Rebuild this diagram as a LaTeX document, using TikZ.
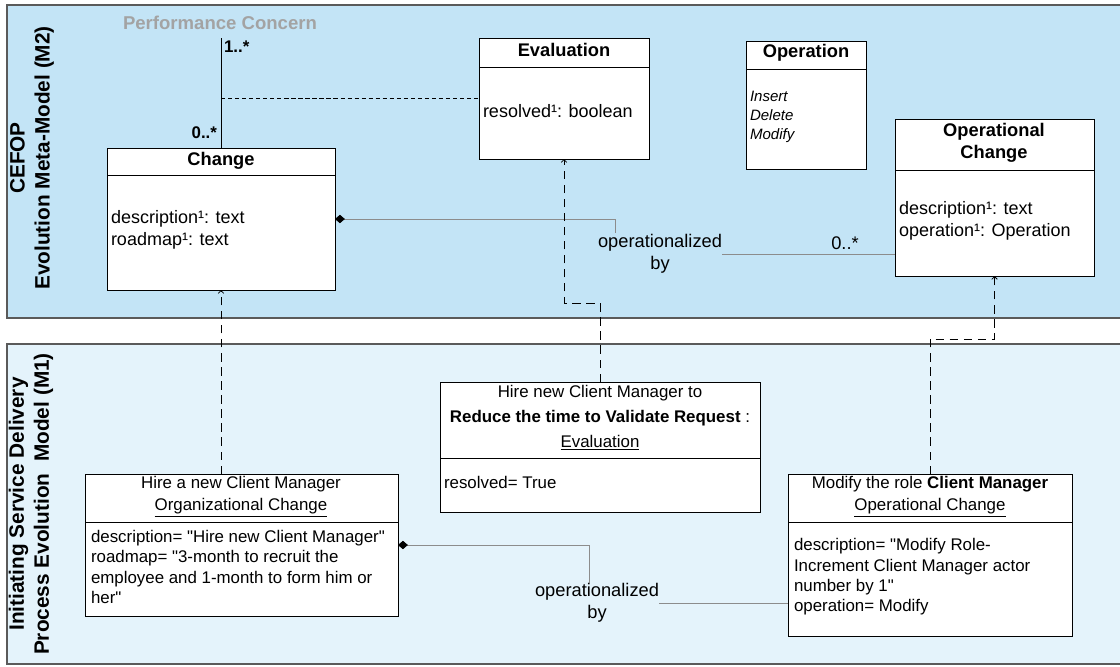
\documentclass[tikz,border=0pt]{standalone}
\usepackage{fontspec}
\setmainfont{Liberation Sans}
\usetikzlibrary{arrows.meta}

\newcommand{\pxu}{0.025cm}
\newcommand{\qt}{\textquotedbl}
\definecolor{metablue}{HTML}{C3E4F6}
\definecolor{modelblue}{HTML}{E4F3FB}
\definecolor{bandline}{HTML}{5A5A5A}
\definecolor{concerngray}{HTML}{A3A3A3}
\definecolor{linkgray}{HTML}{8C8C8C}

\begin{document}
\begin{tikzpicture}[
			x=0.025cm, y=-0.025cm,
			every node/.style={inner sep=0pt, outer sep=0pt},
			band/.style={draw=bandline, line width=1.3pt},
			bandlabel/.style={font=\fontsize{14.8}{17.7}\selectfont\bfseries, rotate=90, align=center},
			umlbox/.style={draw=black, fill=white, line width=0.7pt, anchor=north west},
			title/.style={font=\fontsize{13}{15.6}\selectfont\bfseries, align=center},
			attr/.style={font=\fontsize{12.8}{15.6}\selectfont, align=left, anchor=west},
			insttitle/.style={font=\fontsize{12}{15.6}\selectfont, align=center},
			instattr/.style={font=\fontsize{12}{14.5}\selectfont, align=left, anchor=west},
			linklabel/.style={font=\fontsize{13}{15.6}\selectfont, align=center},
			compos/.style={draw=linkgray, line width=0.5pt},
			owner/.style={{Diamond[length=7pt,width=6pt,black,fill=black]}-},
			instof/.style={line width=0.6pt, dash pattern=on 6pt off 4pt, -{Straight Barb[length=2pt,width=4pt]}},
			line cap=butt
			]
			\useasboundingbox (0,0) rectangle (1120,666);
			
			% meta-model band (M2)
			\draw[band, fill=metablue] (7,5) rectangle (1124,318);
			\node[bandlabel] (m2label) at (32,158) {CEFOP\\Evolution Meta-Model (M2)};
			
			\node[font=\fontsize{13.2}{15}\selectfont\bfseries, text=concerngray] (concern) at (220,23) {Performance Concern};
			
			% Change
			\node[umlbox, minimum width=228*\pxu, minimum height=142*\pxu] (change) at (107,148) {};
			\draw[line width=0.7pt] (107,175) -- (335,175);
			\node[title] (changetitle) at (221,161) {Change};
			\node[attr] (changeattr) at (111,230) {description¹: text\\roadmap¹: text};
			
			% Evaluation
			\node[umlbox, minimum width=170*\pxu, minimum height=121*\pxu] (eval) at (479,38) {};
			\draw[line width=0.7pt] (479,67) -- (649,67);
			\node[title] (evaltitle) at (564,50) {Evaluation};
			\node[attr] (evalattr) at (483,111) {resolved¹: boolean};
			
			% Operation
			\node[umlbox, minimum width=120*\pxu, minimum height=128*\pxu] (operation) at (746,41) {};
			\draw[line width=0.7pt] (746,69) -- (866,69);
			\node[title] (operationtitle) at (806,53) {Operation};
			\node[font=\fontsize{10.7}{13.3}\selectfont\itshape, align=left, anchor=west] (operationlits) at (750,117) {Insert\\Delete\\Modify};
			
			% Operational Change
			\node[umlbox, minimum width=199*\pxu, minimum height=157*\pxu] (opchange) at (895,119) {};
			\draw[line width=0.7pt] (895,170) -- (1094,170);
			\node[title] (opchangetitle) at (994,143) {Operational\\Change};
			\node[attr] (opchangeattr) at (899,221) {description¹: text\\operation¹: Operation};
			
			% concern association
			\coordinate (pc) at (221,38);
			\coordinate (assoc) at (221,98);
			\draw[line width=0.6pt] (pc) -- (change);
			\node[font=\fontsize{12}{14}\selectfont\bfseries, anchor=west] (multtop) at (224,47) {1..*};
			\node[font=\fontsize{12}{14}\selectfont\bfseries, anchor=east] (multbot) at (217,133) {0..*};
			\draw[line width=0.6pt, dash pattern=on 3pt off 2pt] (assoc) -- (assoc -| eval.west);
			
			% operationalized by (M2)
			\node[linklabel] (oper2) at (660,254) {operationalized\\by};
			\coordinate (op2top) at (615,233);
			\draw[compos, owner] (change.east) -| (op2top);
			\draw[compos] (oper2.east) -- (oper2.east -| opchange.west);
			\node[linklabel] (mult2) at (845,243) {0..*};
			
			% model band (M1)
			\draw[band, fill=modelblue] (7,344) rectangle (1124,664);
			\node[bandlabel] (m1label) at (31,504) {Initiating Service Delivery\\Process Evolution\ \ Model (M1)};
			
			% Hire a new Client Manager
			\node[umlbox, minimum width=313*\pxu, minimum height=142*\pxu] (hirecm) at (85,474) {};
			\draw[line width=0.7pt] (85,522) -- (398,522);
			\node[insttitle] (hirecmtitle) at (241,497) {Hire a new Client Manager\\\underline{Organizational Change}};
			\node[instattr] (hirecmattr) at (91,567) {description= \qt Hire new Client Manager\qt\\roadmap= \qt 3-month to recruit the\\employee and 1-month to form him or\\her\qt};
			
			% Evaluation instance
			\node[umlbox, minimum width=320*\pxu, minimum height=130*\pxu] (evalinst) at (440,382) {};
			\draw[line width=0.7pt] (440,458) -- (760,458);
			\node[font=\fontsize{12}{17.7}\selectfont, align=center] (evalinsttitle) at (600,418) {Hire new Client Manager to\\\textbf{Reduce the time to Validate Request} :\\\underline{Evaluation}};
			\node[instattr] (evalinstattr) at (444,482) {resolved= True};
			
			% Modify the role
			\node[umlbox, minimum width=284*\pxu, minimum height=162*\pxu] (modrole) at (788,474) {};
			\draw[line width=0.7pt] (788,522) -- (1072,522);
			\node[insttitle] (modroletitle) at (930,497) {Modify the role \textbf{Client Manager}\\\underline{Operational Change}};
			\node[instattr] (modroleattr) at (794,577) {description= \qt Modify Role-\\Increment Client Manager actor\\number by 1\qt\\operation= Modify};
			
			% operationalized by (M1)
			\node[linklabel] (oper1) at (597,603) {operationalized\\by};
			\coordinate (op1top) at (589,583);
			\draw[compos, owner] (hirecm.east) -| (op1top);
			\draw[compos] (oper1.east) -- (oper1.east -| modrole.west);
			
			% instance of
			\draw[instof] (hirecm.north -| change.south) -- (change.south);
			\draw[instof] (evalinst.north) -- ++(0,-79) -| (eval.south);
			\draw[instof] (modrole.north) -- ++(0,-135) -| (opchange.south);
		\end{tikzpicture}
\end{document}
